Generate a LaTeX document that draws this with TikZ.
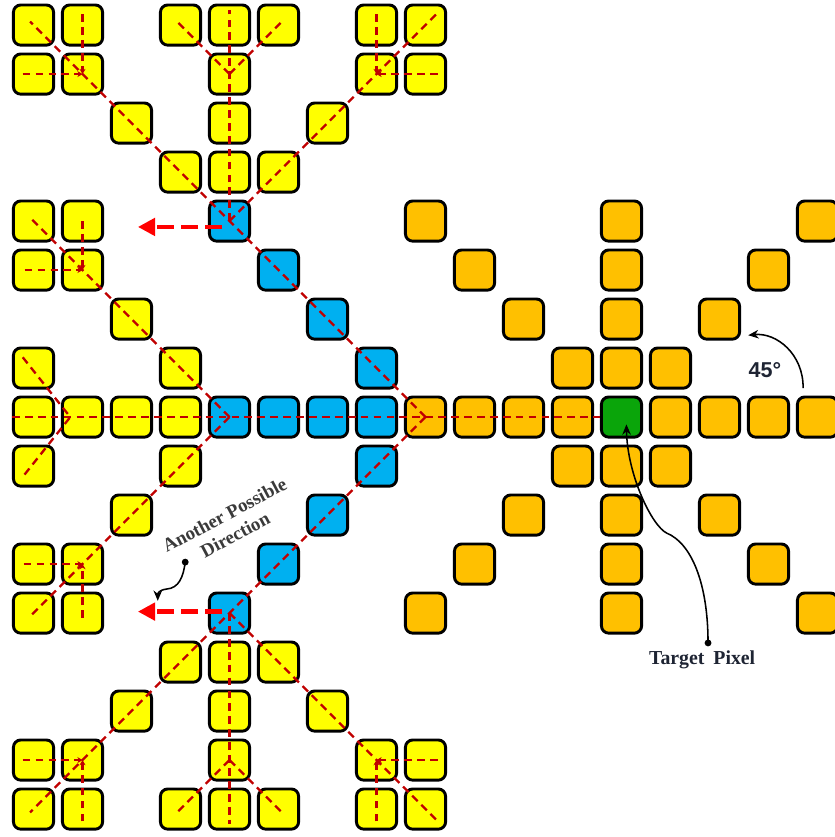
\documentclass[tikz,border=0pt]{standalone}
\usepackage{fontspec}
\setmainfont{Liberation Serif}
\newfontfamily\arialfont{Liberation Sans}
\usetikzlibrary{arrows.meta,calc}
\definecolor{yel}{HTML}{FFFF00}
\definecolor{blu}{HTML}{00B0F0}
\definecolor{org}{HTML}{FFC000}
\definecolor{grn}{HTML}{0AA50A}
\definecolor{dred}{HTML}{C00000}
\definecolor{bred}{HTML}{FF0000}
\definecolor{txtgray}{HTML}{3A3A3A}
\definecolor{txtnavy}{HTML}{1E2433}
\begin{document}
\begin{tikzpicture}[
  px/.style={draw=black, line width=1.7pt, rounded corners=0.15cm, minimum size=0.82cm, inner sep=0pt},
  redpath/.style={draw=dred, line width=1.35pt, dash pattern=on 4.5pt off 3pt},
  junction/.style={redpath, -{Stealth[length=3pt,width=3.5pt]}},
  bigarrow/.style={draw=bred, line width=2.8pt, dash pattern=on 10pt off 4pt, -{Triangle[length=10pt,width=10pt]}},
  callout/.style={draw=black, line width=0.9pt, -{Stealth[length=6pt,width=5pt]}},
  dotnode/.style={circle, fill=black, inner sep=0pt, minimum size=0.14cm},
  lbl/.style={font=\bfseries\fontsize{11}{13}\selectfont, align=center}
]
\useasboundingbox (0,0) rectangle (17.041,17.082);
\clip (0,0) rectangle (17.041,17.082);
% yellow cells
\foreach \c/\r in {0/0,1/0,3/0,4/0,5/0,7/0,8/0,
                   0/1,1/1,4/1,7/1,8/1,
                   2/2,4/2,6/2,
                   3/3,4/3,5/3,
                   0/4,1/4,0/5,1/5,2/6,0/7,3/7,
                   0/8,1/8,2/8,3/8,
                   0/9,3/9,2/10,0/11,1/11,0/12,1/12,
                   3/13,4/13,5/13,
                   2/14,4/14,6/14,
                   0/15,1/15,4/15,7/15,8/15,
                   0/16,1/16,3/16,4/16,5/16,7/16,8/16}
  \node[px, fill=yel] (s\c-\r) at ({\c+0.684},{16.57-\r}) {};
% blue cells
\foreach \c/\r in {4/8,5/8,6/8,7/8,7/7,6/6,5/5,4/4,7/9,6/10,5/11,4/12}
  \node[px, fill=blu] (s\c-\r) at ({\c+0.684},{16.57-\r}) {};
% orange cells
\foreach \c/\r in {8/8,9/8,10/8,11/8,13/8,14/8,15/8,16/8,
                   12/4,12/5,12/6,12/7,12/9,12/10,12/11,12/12,
                   8/4,9/5,10/6,11/7,13/7,14/6,15/5,16/4,
                   11/9,10/10,9/11,8/12,13/9,14/10,15/11,16/12}
  \node[px, fill=org] (s\c-\r) at ({\c+0.684},{16.57-\r}) {};
% target
\node[px, fill=grn] (s12-8) at ({12+0.684},{16.57-8}) {};

% red dashed paths
\draw[redpath] ($(s0-8)+(-0.44,0)$) -- (s12-8.west);
\draw[redpath] (s8-8.center) -- ($(s0-0)+(-0.07,0.07)$);
\draw[redpath] (s8-8.center) -- ($(s0-16)+(-0.07,-0.07)$);
\draw[redpath] (s4-4.center) -- ($(s4-0)+(0,0.3)$);
\draw[redpath] (s4-4.center) -- ($(s8-0)+(0.22,0.22)$);
\draw[redpath] (s4-12.center) -- ($(s4-16)+(0,-0.3)$);
\draw[redpath] (s4-12.center) -- ($(s8-16)+(0.22,-0.22)$);
\draw[redpath] (s4-1.center) -- ($(s3-0)+(-0.1,0.1)$);
\draw[redpath] (s4-1.center) -- ($(s5-0)+(0.1,0.1)$);
\draw[redpath] (s4-15.center) -- ($(s3-16)+(-0.1,-0.1)$);
\draw[redpath] (s4-15.center) -- ($(s5-16)+(0.1,-0.1)$);
\draw[redpath] (s4-8.center) -- ($(s0-4)+(-0.07,0.07)$);
\draw[redpath] (s4-8.center) -- ($(s0-12)+(-0.07,-0.07)$);
\draw[redpath] ($(s0-7)+(-0.22,0.22)$) -- ($(s1-8)+(-0.25,0)$) -- ($(s0-9)+(-0.22,-0.22)$);
% corner clusters
\draw[junction] ($(s0-1)+(-0.22,0)$) -- (s1-1.center);
\draw[junction] ($(s1-0)+(0,0.22)$) -- (s1-1.center);
\draw[junction] ($(s8-1)+(0.25,0)$) -- (s7-1.center);
\draw[junction] ($(s7-0)+(0,0.22)$) -- (s7-1.center);
\draw[junction] ($(s0-5)+(-0.18,0)$) -- (s1-5.center);
\draw[junction] (s1-4.center) -- (s1-5.center);
\draw[junction] ($(s0-11)+(-0.2,0)$) -- (s1-11.center);
\draw[junction] ($(s1-12)+(0,-0.1)$) -- (s1-11.center);
\draw[junction] ($(s0-15)+(-0.22,0)$) -- (s1-15.center);
\draw[junction] ($(s1-16)+(0,-0.25)$) -- (s1-15.center);
\draw[junction] ($(s8-15)+(0.25,0)$) -- (s7-15.center);
\draw[junction] ($(s7-16)+(0,-0.25)$) -- (s7-15.center);

% big red arrows
\coordinate (a1) at ($(s4-4)+(-1.87,-0.12)$);
\draw[bigarrow] ($(s4-4)+(-0.15,-0.12)$) -- (a1);
\coordinate (a2) at ($(s4-12)+(-1.87,0.03)$);
\draw[bigarrow] ($(s4-12)+(-0.15,0.03)$) -- (a2);

% another possible direction
\node[lbl, text=txtgray, rotate=28] (apd) at (4.69,6.37) {Another Possible\\Direction};
\node[dotnode] (d1) at (3.78,5.61) {};
\coordinate (t1) at (3.22,4.82);
\draw[callout] (d1.center) .. controls (3.74,5.3) and (3.65,5.08) .. (3.4,5.06) .. controls (3.25,5.04) and (3.22,4.98) .. (t1);

% target pixel
\node[lbl, text=txtnavy, font=\bfseries\fontsize{11.5}{13}\selectfont] (tp) at (14.33,3.62) {Target\hspace{0.45em}Pixel};
\node[dotnode] (d2) at (14.45,3.96) {};
\coordinate (t2) at ($(s12-8)+(0.1,-0.15)$);
\draw[callout] (d2.center) .. controls (14.45,5.2) and (14.1,6.0) .. (13.61,6.2) .. controls (13.3,6.35) and (12.8,7.4) .. (t2);

% 45 degrees
\node[font=\arialfont\bfseries\fontsize{12.5}{14}\selectfont, text=txtnavy] (deg) at (15.61,9.53) {45°};
\coordinate (c45s) at (16.39,9.16);
\coordinate (c45e) at (15.27,10.24);
\draw[callout] (c45s) .. controls (16.4,9.85) and (15.85,10.3) .. (c45e);
\end{tikzpicture}
\end{document}
